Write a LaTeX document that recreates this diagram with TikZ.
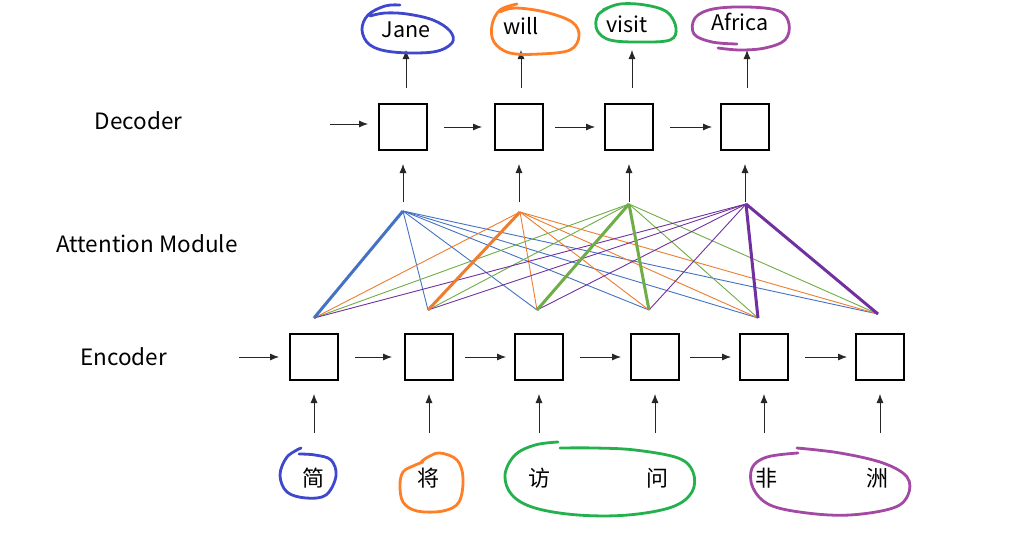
\documentclass[tikz,border=0pt]{standalone}
\usepackage{fontspec}
\setmainfont{Noto Sans CJK SC}
\usetikzlibrary{arrows.meta}
\definecolor{cB}{HTML}{4472C4}
\definecolor{cO}{HTML}{ED7D31}
\definecolor{cG}{HTML}{70AD47}
\definecolor{cP}{HTML}{7030A0}
\definecolor{hB}{HTML}{3F48CC}
\definecolor{hO}{HTML}{FF7F27}
\definecolor{hG}{HTML}{22B14C}
\definecolor{hP}{HTML}{A349A4}
\tikzset{
  cell/.style={draw, line width=2.2pt, minimum width=47.8pt, minimum height=45.8pt, inner sep=0pt},
  arr/.style={-{Latex[length=9pt,width=7pt]}, line width=0.8pt, black!85},
  lbl/.style={font=\fontsize{22.5}{26}\selectfont, inner sep=0pt},
  word/.style={font=\fontsize{21.5}{24}\selectfont, inner sep=0pt},
  hanzi/.style={font=\fontsize{22}{24}\selectfont, inner sep=0pt},
  thin/.style={line width=0.9pt},
  thick/.style={line width=3pt},
  hand/.style={line width=2.8pt, line cap=round, line join=round}
}
\begin{document}
\begin{tikzpicture}[x=1pt,y=-1pt]
\useasboundingbox[fill=white] (0,0) rectangle (1023,544);

% labels
\node[lbl] (ldec) at (138.5,121) {Decoder};
\node[lbl] (latt) at (147,244) {Attention Module};
\node[lbl] (lenc) at (123.5,357) {Encoder};

% decoder cells
\node[cell] (d1) at (403,127) {};
\node[cell] (d2) at (519,127) {};
\node[cell] (d3) at (629,127) {};
\node[cell] (d4) at (745,127) {};

% encoder cells
\node[cell] (e1) at (314,357) {};
\node[cell] (e2) at (429,357) {};
\node[cell] (e3) at (539,357) {};
\node[cell] (e4) at (655,357) {};
\node[cell] (e5) at (764,357) {};
\node[cell] (e6) at (880,357) {};

% output words
\node[word] (w1) at (406,30) {Jane};
\node[word] (w2) at (521,26) {will};
\node[word] (w3) at (627,24) {visit};
\node[word] (w4) at (740,22) {Africa};

% input characters
\node[hanzi] (h1) at (313,478) {简};
\node[hanzi] (h2) at (428,478) {将};
\node[hanzi] (h3) at (539,478) {访};
\node[hanzi] (h4) at (657,478) {问};
\node[hanzi] (h5) at (766,478) {非};
\node[hanzi] (h6) at (877,478) {洲};

% decoder arrows
\coordinate (din) at (330,124);
\coordinate (dinE) at (368,124);
\draw[arr] (din) -- (dinE);
\draw[arr, shorten <=16pt, shorten >=12pt] (d1) -- (d2);
\draw[arr, shorten <=11pt, shorten >=9pt] (d2) -- (d3);
\draw[arr, shorten <=16pt, shorten >=8pt] (d3) -- (d4);

% decoder to words
\foreach \i/\x in {1/406,2/521,3/632,4/747}{
  \coordinate (ws\i) at (\x,88);
  \coordinate (we\i) at (\x,50);
  \draw[arr] (ws\i) -- (we\i);
}

% encoder arrows
\coordinate (ein) at (239,357);
\coordinate (einE) at (279,357);
\draw[arr] (ein) -- (einE);
\draw[arr, shorten <=16pt, shorten >=12pt] (e1) -- (e2);
\draw[arr, shorten <=11pt, shorten >=8pt] (e2) -- (e3);
\draw[arr, shorten <=16pt, shorten >=9pt] (e3) -- (e4);
\draw[arr, shorten <=10pt, shorten >=8pt] (e4) -- (e5);
\draw[arr, shorten <=16pt, shorten >=8pt] (e5) -- (e6);

% characters to encoder
\foreach \i/\x in {1/314,2/429,3/539,4/655,5/764,6/880}{
  \coordinate (cs\i) at (\x,433);
  \draw[arr, shorten >=13pt] (cs\i) -- (e\i);
}

% attention points
\coordinate (T1) at (403,211);
\coordinate (T2) at (520,212);
\coordinate (T3) at (629,204);
\coordinate (T4) at (746,204);
\coordinate (B1) at (314,318);
\coordinate (B2) at (428,310);
\coordinate (B3) at (537,310);
\coordinate (B4) at (649,310);
\coordinate (B5) at (758,318);
\coordinate (B6) at (878,314);

% attention to decoder
\foreach \i/\x in {1/403,2/519,3/629,4/745}{
  \coordinate (as\i) at (\x,202);
  \draw[arr, shorten >=13pt] (as\i) -- (d\i);
}

% thin attention lines
\foreach \b in {2,3,4,5,6}{\draw[thin, cB] (T1) -- (B\b);}
\foreach \b in {1,3,4,5,6}{\draw[thin, cO] (T2) -- (B\b);}
\foreach \b in {1,2,5,6}{\draw[thin, cG] (T3) -- (B\b);}
\foreach \b in {1,2,3,4}{\draw[thin, cP] (T4) -- (B\b);}
% thick attention lines
\draw[thick, cB] (T1) -- (B1);
\draw[thick, cO] (T2) -- (B2);
\draw[thick, cG] (T3) -- (B3);
\draw[thick, cG] (T3) -- (B4);
\draw[thick, cP] (T4) -- (B5);
\draw[thick, cP] (T4) -- (B6);

% hand-drawn circles, top
\draw[hand, hB] plot[smooth, tension=0.6] coordinates {(400,5) (385,6) (368,15) (362,30) (370,45) (393,52) (433,52) (452,43) (450,31) (433,20) (407,14) (385,13) (370,16)};
\draw[hand, hO] plot[smooth, tension=0.6] coordinates {(517,4) (500,10) (492,25) (494,42) (510,53) (540,54) (570,50) (579,36) (572,22) (545,12) (515,8) (500,12)};
\draw[hand, hG] plot[smooth, tension=0.6] coordinates {(612,6) (598,15) (597,30) (610,40) (640,42) (670,40) (676,28) (667,12) (645,5) (620,4) (603,10)};
\draw[hand, hP] plot[smooth, tension=0.6] coordinates {(737,44) (712,42) (694,34) (695,18) (713,9) (748,7) (779,11) (789,24) (785,40) (765,48) (740,50) (718,48)};

% hand-drawn circles, bottom
\draw[hand, hB] plot[smooth, tension=0.6] coordinates {(301,448) (287,457) (280,475) (287,492) (306,498) (326,495) (336,476) (331,460) (315,455) (299,454)};
\draw[hand, hO] plot[smooth, tension=0.6] coordinates {(421,462) (428,457) (440,453) (457,460) (463,478) (459,502) (443,511) (417,511) (403,502) (400,485) (403,472) (413,466) (423,462)};
\draw[hand, hG] plot[smooth, tension=0.6] coordinates {(558,442) (535,445) (515,455) (505,475) (512,495) (535,508) (578,515) (628,515) (672,507) (692,492) (693,472) (678,458) (635,450) (595,448) (560,448)};
\draw[hand, hP] plot[smooth, tension=0.6] coordinates {(797,448) (840,453) (883,463) (907,477) (908,495) (893,508) (850,515) (807,513) (770,505) (753,488) (752,468) (767,457) (798,453)};
\end{tikzpicture}
\end{document}
